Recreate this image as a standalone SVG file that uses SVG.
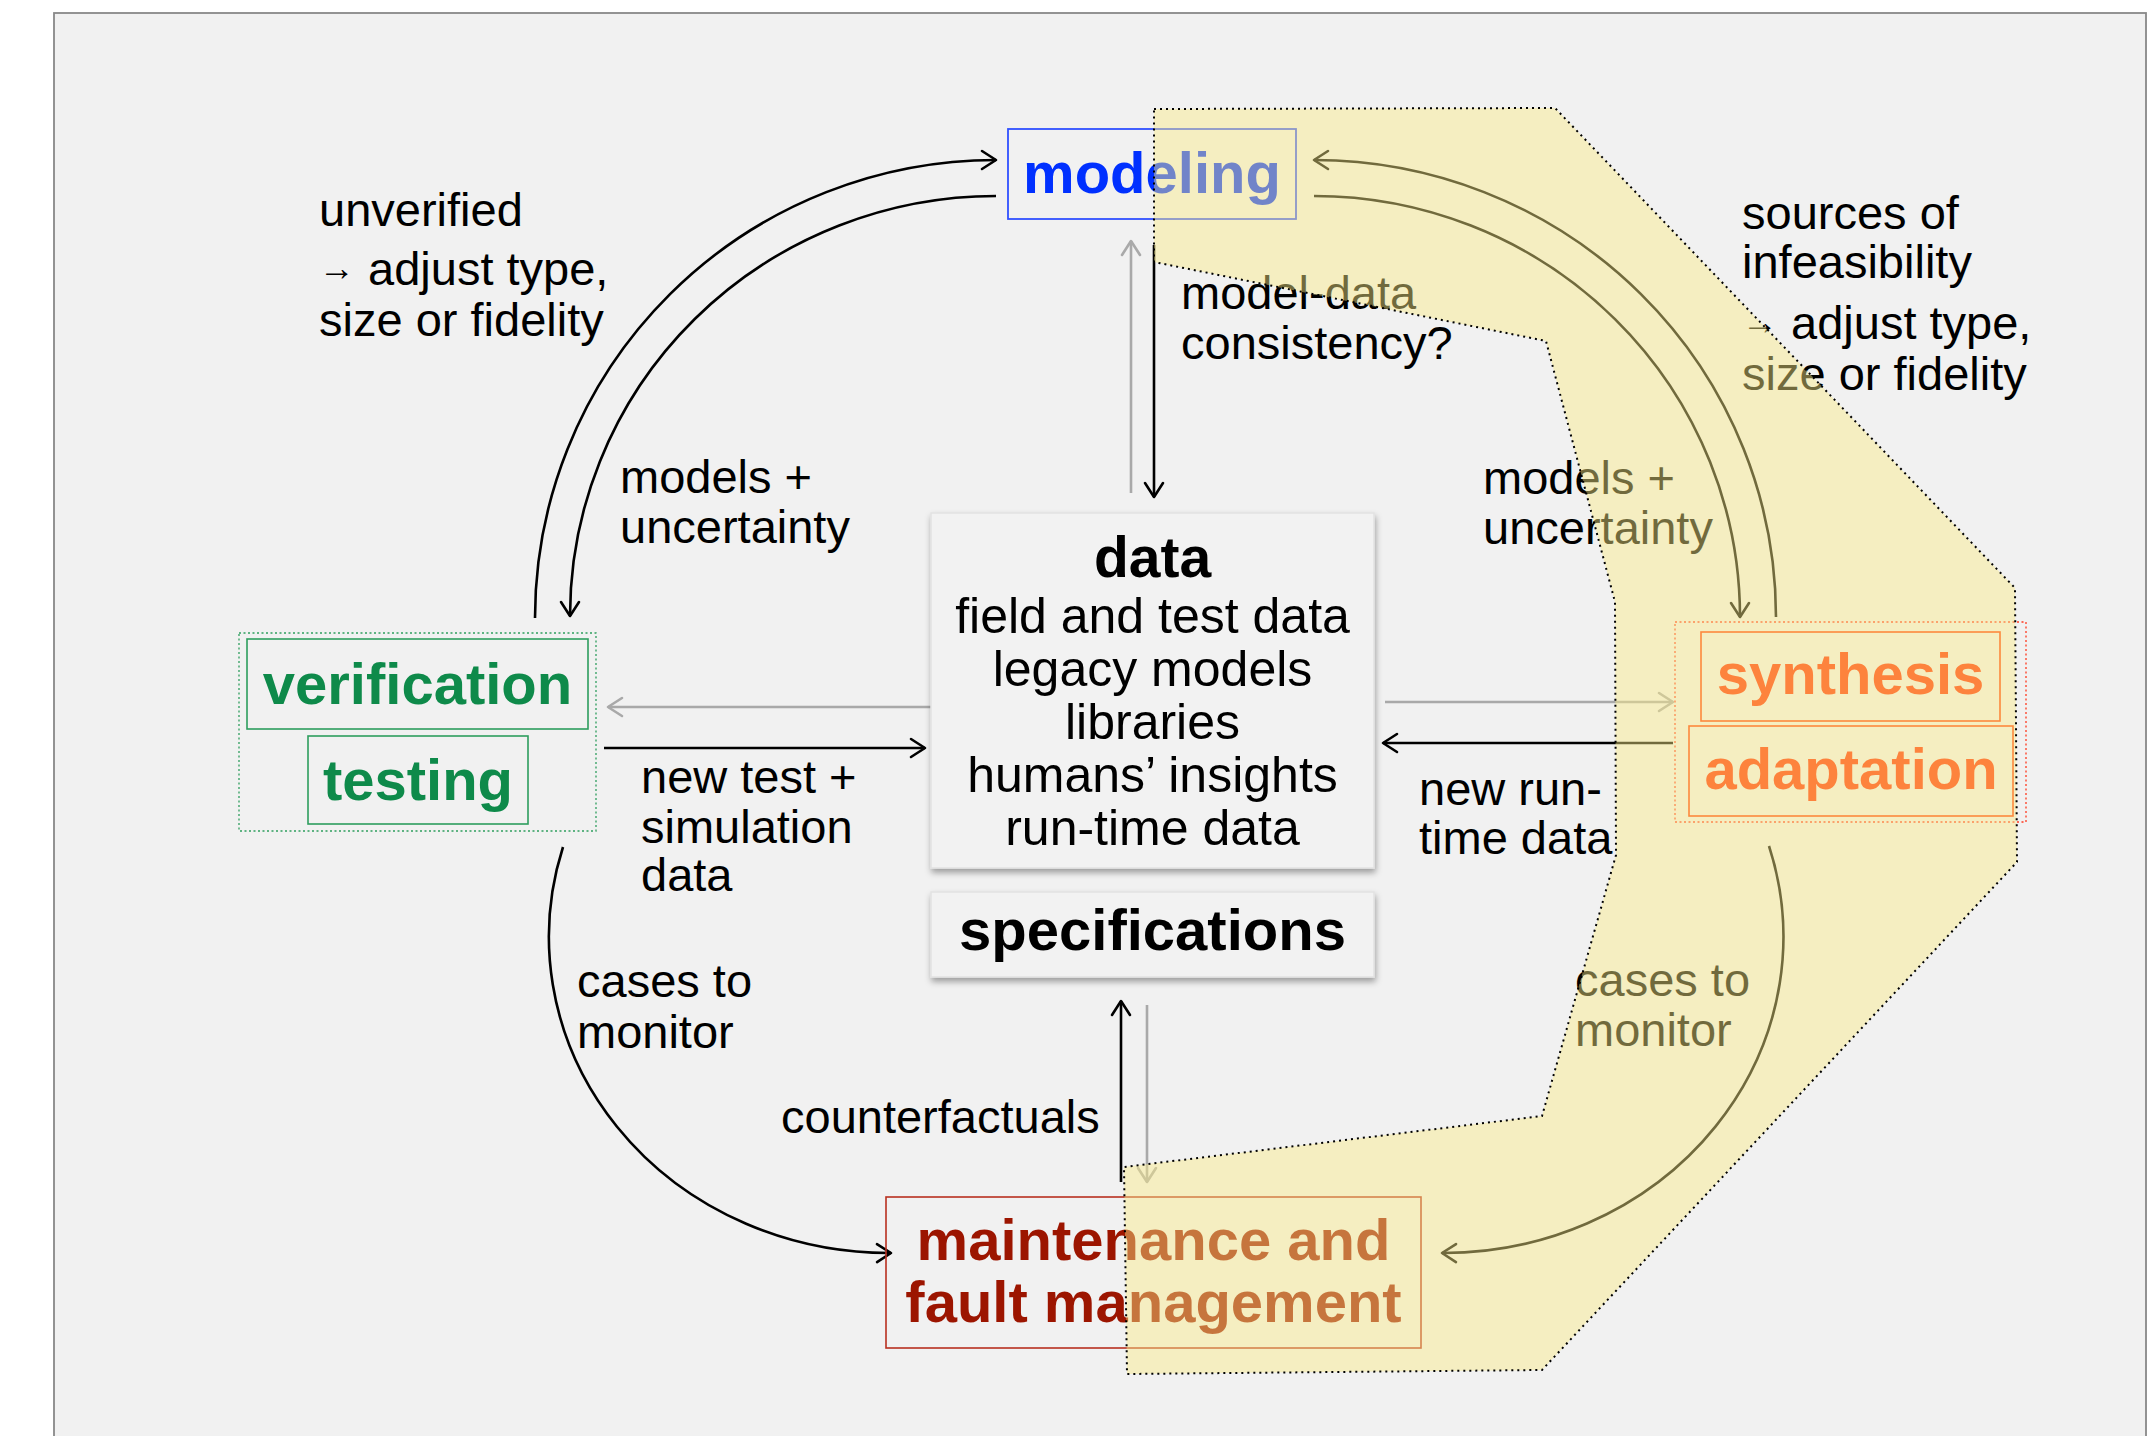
<svg xmlns="http://www.w3.org/2000/svg" width="2150" height="1436" viewBox="0 0 2150 1436">
<defs>
<style>
.lbl{font-family:"Liberation Sans",Arial,sans-serif;font-size:47px;fill:#000}
.arr{font-size:36px}
.item{font-family:"Liberation Sans",Arial,sans-serif;font-size:50px;fill:#000;text-anchor:middle}
.bold{font-family:"Liberation Sans",Arial,sans-serif;font-weight:bold;font-size:58px;text-anchor:middle}
.blk{fill:none;stroke:#000;stroke-width:2.6}
.gry{fill:none;stroke:#a9a9a9;stroke-width:2.6}
.box{fill:#f2f2f2;stroke:#e2e2e2;stroke-width:1.5}
</style>
<marker id="ab" markerUnits="userSpaceOnUse" markerWidth="18" markerHeight="22" viewBox="0 0 18 22" refX="16" refY="11" orient="auto" overflow="visible">
<path d="M2,2 L16,11 L2,20" fill="none" stroke="#000" stroke-width="2.6" stroke-linecap="round" stroke-linejoin="round"/>
</marker>
<marker id="ag" markerUnits="userSpaceOnUse" markerWidth="18" markerHeight="22" viewBox="0 0 18 22" refX="16" refY="11" orient="auto" overflow="visible">
<path d="M2,2 L16,11 L2,20" fill="none" stroke="#a9a9a9" stroke-width="2.6" stroke-linecap="round" stroke-linejoin="round"/>
</marker>
<filter id="sh" x="-10%" y="-10%" width="125%" height="130%">
<feDropShadow dx="1" dy="4" stdDeviation="3" flood-color="#000" flood-opacity="0.35"/>
</filter>
</defs>
<rect x="0" y="0" width="2150" height="1436" fill="#fff"/>
<rect x="54" y="13" width="2092" height="1440" fill="#f1f1f1" stroke="#888" stroke-width="1.8"/>

<g id="connectors">
<path class="blk" d="M535 618 A461 458 0 0 1 996 160" marker-end="url(#ab)"/>
<path class="blk" d="M996 196 A426 420 0 0 0 570 616" marker-end="url(#ab)"/>
<path class="blk" d="M1776 617 A462 457 0 0 0 1314 160" marker-end="url(#ab)"/>
<path class="blk" d="M1314 196 A426 421 0 0 1 1740 617" marker-end="url(#ab)"/>
<path class="blk" d="M563 847 A340 316 0 0 0 891 1253" marker-end="url(#ab)"/>
<path class="blk" d="M1769 846 A340 316 0 0 1 1442 1253" marker-end="url(#ab)"/>
<path class="gry" d="M1131 493 L1131 241" marker-end="url(#ag)"/>
<path class="blk" d="M1154 245 L1154 497" marker-end="url(#ab)"/>
<path class="gry" d="M931 707 L608 707" marker-end="url(#ag)"/>
<path class="blk" d="M604 748 L925 748" marker-end="url(#ab)"/>
<path class="gry" d="M1385 702 L1673 702" marker-end="url(#ag)"/>
<path class="blk" d="M1673 743 L1383 743" marker-end="url(#ab)"/>
<path class="blk" d="M1121 1182 L1121 1001" marker-end="url(#ab)"/>
<path class="gry" d="M1147 1005 L1147 1182" marker-end="url(#ag)"/>
</g>

<g id="labels">
<text class="lbl" x="319" y="226">unverified</text>
<text class="lbl" x="319" y="285"><tspan class="arr" dy="-5">→</tspan><tspan dy="5"> adjust type,</tspan></text>
<text class="lbl" x="319" y="336">size or fidelity</text>
<text class="lbl" x="620" y="493">models +</text>
<text class="lbl" x="620" y="543">uncertainty</text>
<text class="lbl" x="641" y="793">new test +</text>
<text class="lbl" x="641" y="843">simulation</text>
<text class="lbl" x="641" y="891">data</text>
<text class="lbl" x="577" y="997">cases to</text>
<text class="lbl" x="577" y="1048">monitor</text>
<text class="lbl" x="781" y="1133">counterfactuals</text>
<text class="lbl" x="1181" y="309">model-data</text>
<text class="lbl" x="1181" y="359">consistency?</text>
<text class="lbl" x="1483" y="494">models +</text>
<text class="lbl" x="1483" y="544">uncertainty</text>
<text class="lbl" x="1742" y="229">sources of</text>
<text class="lbl" x="1742" y="278">infeasibility</text>
<text class="lbl" x="1742" y="339"><tspan class="arr" dy="-5">→</tspan><tspan dy="5"> adjust type,</tspan></text>
<text class="lbl" x="1742" y="390">size or fidelity</text>
<text class="lbl" x="1419" y="805">new run-</text>
<text class="lbl" x="1419" y="854">time data</text>
<text class="lbl" x="1575" y="996">cases to</text>
<text class="lbl" x="1575" y="1046">monitor</text>
</g>

<g id="data">
<rect class="box" x="931" y="513" width="443" height="355" filter="url(#sh)"/>
<text class="bold" x="1152.5" y="577" style="font-size:57px;fill:#000">data</text>
<text class="item" x="1152.5" y="633">field and test data</text>
<text class="item" x="1152.5" y="686">legacy models</text>
<text class="item" x="1152.5" y="739">libraries</text>
<text class="item" x="1152.5" y="792">humans’ insights</text>
<text class="item" x="1152.5" y="845">run-time data</text>
</g>

<g id="specifications">
<rect class="box" x="931" y="892" width="443" height="85" filter="url(#sh)"/>
<text class="bold" x="1152.5" y="950" style="fill:#000">specifications</text>
</g>

<g id="modeling">
<rect x="1008" y="129" width="288" height="90" fill="none" stroke="#3050ff" stroke-width="1.8"/>
<text class="bold" x="1152" y="193" style="fill:#0030ff">modeling</text>
</g>

<g id="verification-testing">
<rect x="239" y="633" width="357" height="198" fill="none" stroke="#2e9e5e" stroke-width="1.3" stroke-dasharray="2 2.5"/>
<g id="verification">
<rect x="247" y="639" width="341" height="90" fill="none" stroke="#2e9e5e" stroke-width="1.6"/>
<text class="bold" x="417.5" y="704" style="fill:#0e8a4a">verification</text>
</g>
<g id="testing">
<rect x="308" y="736" width="220" height="88" fill="none" stroke="#2e9e5e" stroke-width="1.6"/>
<text class="bold" x="418" y="800" style="fill:#0e8a4a">testing</text>
</g>
</g>

<g id="synthesis-adaptation">
<rect x="1675" y="622" width="351" height="200" fill="none" stroke="#ff3a20" stroke-width="1.3" stroke-dasharray="2 2.5"/>
<g id="synthesis">
<rect x="1701" y="632" width="299" height="89" fill="none" stroke="#ff3a00" stroke-width="1.6"/>
<text class="bold" x="1850.5" y="694" style="fill:#ff2e00">synthesis</text>
</g>
<g id="adaptation">
<rect x="1689" y="726" width="324" height="90" fill="none" stroke="#ff3a00" stroke-width="1.6"/>
<text class="bold" x="1851" y="789" style="fill:#ff2e00">adaptation</text>
</g>
</g>

<g id="maintenance">
<rect x="886" y="1197" width="535" height="151" fill="none" stroke="#b83020" stroke-width="1.6"/>
<text class="bold" x="1153.5" y="1260" style="fill:#9c1500">maintenance and</text>
<text class="bold" x="1153.5" y="1322" style="fill:#9c1500">fault management</text>
</g>

<g id="highlight">
<polygon points="1154,109 1555,108 2015,588 2017,862 1542,1370 1127,1374 1124,1167 1542,1116 1616,855 1615,602 1546,341 1154,262" fill="#fbec88" fill-opacity="0.45" stroke="#000" stroke-width="2" stroke-dasharray="2 4"/>
</g>
</svg>
